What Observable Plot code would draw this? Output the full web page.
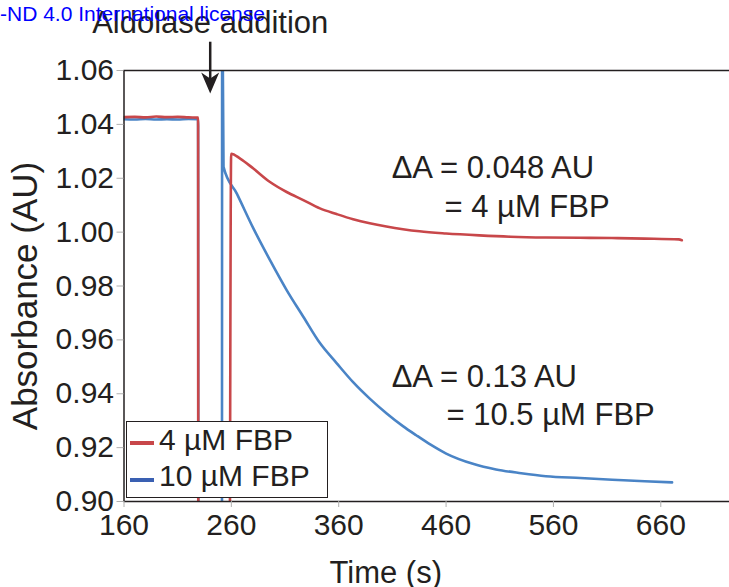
<!DOCTYPE html>
<html>
<head>
<meta charset="utf-8">
<script src="https://cdn.jsdelivr.net/npm/d3@7"></script>
<script src="https://cdn.jsdelivr.net/npm/@observablehq/plot@0.6"></script>
<style>
  html, body { margin: 0; padding: 0; background: #fff; overflow: hidden; }
  #wrap { position: relative; width: 729px; height: 587px; font-family: "Liberation Sans", Arial, sans-serif; color: #231f20; }
  #wm { position: absolute; left: 0; top: 3px; color: #0000ff; font-size: 21px; line-height: 21px; white-space: nowrap; }
  #legend { position: absolute; left: 126px; top: 421px; width: 202px; height: 77px; box-sizing: border-box;
            border: 1.5px solid #231f20; background: #fff; }
  .lg-swatch { position: absolute; left: 3px; width: 24px; height: 4px; }
  .lg-text { position: absolute; left: 32px; font-size: 30px; line-height: 30px; white-space: nowrap; }
</style>
</head>
<body>
<div id="wrap">
  <div id="chart"></div>
  <div id="legend"></div>
  <div id="wm">-ND 4.0 International license</div>
</div>
<script>
// ---- data ----
const redTime = [160, 170, 180, 190, 200, 210, 220, 229, 229.3, 257.8, 259.8, 268.2, 280.5, 296.0, 311.5, 327.0, 342.5, 358.0, 373.4, 388.9, 404.4, 419.8, 435.3, 460, 491, 520, 553, 585, 614.5, 645, 676.7, 679.6];
const redAbs  = [1.0427, 1.0428, 1.0426, 1.0429, 1.0427, 1.0428, 1.0426, 1.0425, 0.80, 0.80, 1.0291, 1.0273, 1.0236, 1.0186, 1.0149, 1.0119, 1.0088, 1.0067, 1.0048, 1.0033, 1.0021, 1.0011, 1.0003, 0.9995, 0.9988, 0.9983, 0.9980, 0.9979, 0.9978, 0.9976, 0.9973, 0.9970];

const blueTime = [160, 170, 180, 190, 200, 210, 220, 229, 229.4, 251.2, 251.4, 252.7, 265.1, 280.5, 296.0, 311.5, 327.0, 342.5, 358.0, 373.4, 388.9, 404.4, 419.8, 432.2, 446, 460.1, 485, 506.5, 530, 552.9, 585, 614.8, 645, 670.5];
const blueAbs  = [1.0419, 1.0418, 1.0420, 1.0418, 1.0419, 1.0418, 1.0420, 1.0419, 0.80, 0.80, 1.10, 1.0242, 1.0143, 1.0014, 0.9896, 0.9785, 0.9686, 0.9588, 0.9514, 0.9443, 0.9382, 0.9328, 0.9280, 0.9246, 0.9210, 0.9178, 0.9140, 0.9119, 0.9105, 0.9094, 0.9087, 0.9081, 0.9075, 0.9071];

const seriesNames  = ["4 µM FBP", "10 µM FBP"];
const seriesColors = ["#c8474a", "#4a84c6"];
const legendColors = ["#c8474a", "#3a60b2"];

const xTicks  = [160, 260, 360, 460, 560, 660];
const yTicks  = [0.90, 0.92, 0.94, 0.96, 0.98, 1.00, 1.02, 1.04, 1.06];
const xDomain = [160, 724];
const yDomain = [0.90, 1.06];

const xLabel = "Time (s)";
const yLabel = "Absorbance (AU)";
const eventLabel = "Aldolase addition";
const eventTime = 240.3;        // arrow position (s)
const eventLabelAbs = 1.0738;   // label baseline (AU)
const arrowTopAbs = 1.0705;
const arrowTipAbs = 1.0515;

const noteTexts = ["ΔA = 0.048 AU", "= 4 µM FBP", "ΔA = 0.13 AU", "= 10.5 µM FBP"];
const noteTime  = [409.3, 458.5, 409.3, 460.4];
const noteAbs   = [1.0200, 1.0056, 0.9426, 0.9285];

// ---- tables built from the arrays ----
const red  = redTime.map((t, i) => ({t, v: redAbs[i]}));
const blue = blueTime.map((t, i) => ({t, v: blueAbs[i]}));
const notes = noteTexts.map((text, i) => ({text, t: noteTime[i], v: noteAbs[i]}));
const ink = "#231f20";

const arrowHead = {
  draw(ctx) {
    ctx.moveTo(0, 0);
    ctx.lineTo(-9, -21);
    ctx.lineTo(0, -15);
    ctx.lineTo(9, -21);
    ctx.closePath();
  }
};

const chart = Plot.plot({
  width: 729,
  height: 587,
  marginTop: 70,
  marginBottom: 86,
  marginLeft: 123.5,
  marginRight: 0,
  style: {fontFamily: "'Liberation Sans', Arial, sans-serif", fontSize: "30px", background: "#fff", color: ink},
  x: {domain: xDomain},
  y: {domain: yDomain},
  marks: [
    Plot.line(blue, {x: "t", y: "v", stroke: seriesColors[1], strokeWidth: 2.6, curve: "monotone-x", clip: true}),
    Plot.line(red,  {x: "t", y: "v", stroke: seriesColors[0], strokeWidth: 2.6, curve: "monotone-x", clip: true}),
    Plot.ruleY(yDomain, {stroke: ink, strokeWidth: 1.5}),
    Plot.ruleX([xDomain[0]], {stroke: ink, strokeWidth: 1.5}),
    Plot.axisX({ticks: xTicks, tickSize: 6, tickPadding: 6, stroke: "#b0b0b0", fill: ink, fontSize: 30, label: null}),
    Plot.axisY({ticks: yTicks, tickSize: 7, tickPadding: 3, stroke: "#b0b0b0", fill: ink, fontSize: 30, label: null, tickFormat: d3.format(".2f")}),
    Plot.text([xLabel], {frameAnchor: "bottom", textAnchor: "middle", dx: -41, dy: 81, lineAnchor: "bottom", fontSize: 31, fill: ink}),
    Plot.text([yLabel], {frameAnchor: "left", textAnchor: "middle", rotate: -90, dx: -98, dy: 10, lineAnchor: "middle", fontSize: 35, fill: ink}),
    Plot.text(notes, {x: "t", y: "v", text: "text", textAnchor: "start", lineAnchor: "bottom", fontSize: 31, fill: ink}),
    Plot.text([{t: eventTime, v: eventLabelAbs}], {x: "t", y: "v", text: () => eventLabel, lineAnchor: "bottom", fontSize: 31, fill: ink}),
    Plot.ruleX([eventTime], {y1: arrowTopAbs, y2: arrowTipAbs + 0.005, stroke: ink, strokeWidth: 2.5}),
    Plot.dot([{t: eventTime, v: arrowTipAbs}], {x: "t", y: "v", symbol: arrowHead, fill: ink, stroke: "none", r: 5})
  ]
});
document.getElementById("chart").appendChild(chart);

// legend
const legend = document.getElementById("legend");
seriesNames.forEach((name, i) => {
  const sw = document.createElement("div");
  sw.className = "lg-swatch";
  sw.style.top = (19 + i * 37) + "px";
  sw.style.background = legendColors[i];
  legend.appendChild(sw);
  const tx = document.createElement("div");
  tx.className = "lg-text";
  tx.style.top = (3 + i * 36) + "px";
  tx.textContent = name;
  legend.appendChild(tx);
});
</script>
</body>
</html>
